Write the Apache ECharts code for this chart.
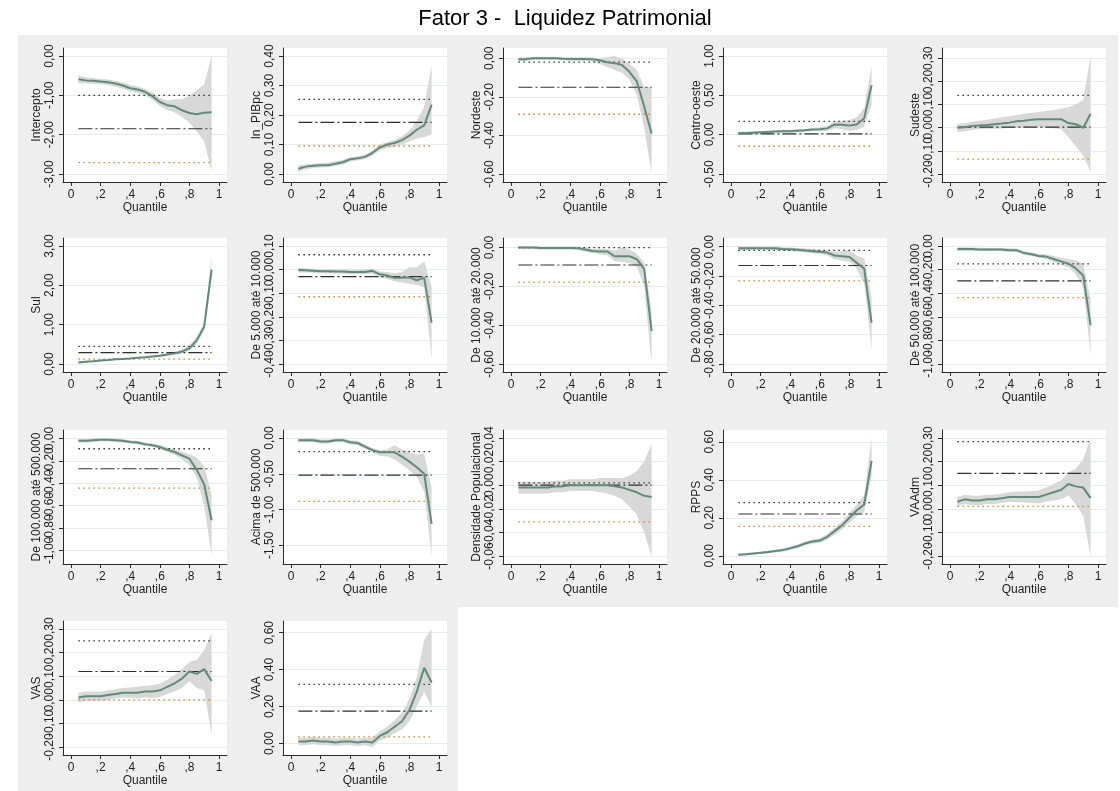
<!DOCTYPE html>
<html><head><meta charset="utf-8">
<script src="https://cdn.jsdelivr.net/npm/echarts@6/dist/echarts.min.js"></script>
<style>html,body{margin:0;padding:0;background:#fff}#c{width:1120px;height:791px}</style>
</head><body><div id="c"></div><script>
const chartTitle = 'Fator 3 -  Liquidez Patrimonial';
const quantiles = [0.05,0.10,0.15,0.20,0.25,0.30,0.35,0.40,0.45,0.50,0.55,0.60,0.65,0.70,0.75,0.80,0.85,0.90,0.95];
const xTicks = [0,0.2,0.4,0.6,0.8,1];
const panelNames = ['Intercepto','ln_PIBpc','Nordeste','Centro-oeste','Sudeste','Sul','De 5.000 até 10.000','De 10.000 até 20.000','De 20.000 até 50.000','De 50.000 até 100.000','De 100.000 até 500.000','Acima de 500.000','Densidade Populacional','RPPS','VAAdm','VAS','VAA'];
const yTicks = [[-3,-2,-1,0],[0,0.1,0.2,0.3,0.4],[-0.6,-0.4,-0.2,0],[-0.5,0,0.5,1],[-0.2,-0.1,0,0.1,0.2,0.3],[0,1,2,3],[-0.4,-0.3,-0.2,-0.1,0,0.1],[-0.6,-0.4,-0.2,0],[-0.8,-0.6,-0.4,-0.2,0],[-1,-0.8,-0.6,-0.4,-0.2,0],[-1,-0.8,-0.6,-0.4,-0.2,0],[-1.5,-1,-0.5,0],[-0.06,-0.04,-0.02,0,0.02,0.04],[0,0.2,0.4,0.6],[-0.2,-0.1,0,0.1,0.2,0.3],[-0.2,-0.1,0,0.1,0.2,0.3],[0,0.2,0.4,0.6]];
const olsCoef  = [-1.85,0.175,-0.15,0.01,0.003,0.29,-0.03,-0.09,-0.128,-0.295,-0.27,-0.52,0.0,0.22,0.15,0.12,0.175];
const olsUpper = [-1.0,0.253,-0.02,0.168,0.14,0.446,0.063,0.0,-0.025,-0.152,-0.091,-0.19,0.002,0.28,0.285,0.25,0.32];
const olsLower = [-2.71,0.095,-0.29,-0.147,-0.136,0.126,-0.115,-0.178,-0.233,-0.438,-0.444,-0.885,-0.031,0.155,0.01,0.0,0.035];

const coef01 = [-0.59,-0.62,-0.63,-0.65,-0.67,-0.70,-0.75,-0.82,-0.85,-0.91,-1.02,-1.17,-1.25,-1.28,-1.38,-1.45,-1.48,-1.44,-1.43];
const upper01 = [-0.49,-0.54,-0.56,-0.58,-0.60,-0.63,-0.67,-0.74,-0.77,-0.83,-0.93,-1.07,-1.13,-1.10,-1.10,-1.01,-0.87,-0.72,0.00];
const lower01 = [-0.70,-0.70,-0.71,-0.72,-0.74,-0.78,-0.83,-0.90,-0.94,-1.00,-1.11,-1.27,-1.37,-1.43,-1.55,-1.70,-1.92,-2.17,-2.93];

const coef02 = [0.018,0.025,0.028,0.030,0.030,0.035,0.040,0.050,0.053,0.058,0.072,0.090,0.100,0.105,0.115,0.130,0.150,0.165,0.235];
const upper02 = [0.030,0.033,0.035,0.037,0.038,0.043,0.048,0.057,0.060,0.066,0.080,0.100,0.108,0.115,0.128,0.148,0.180,0.230,0.370];
const lower02 = [0.008,0.015,0.020,0.022,0.023,0.027,0.032,0.042,0.046,0.050,0.063,0.080,0.088,0.092,0.100,0.110,0.120,0.125,0.135];

const coef03 = [-0.005,-0.005,0.0,0.0,0.0,0.0,-0.002,-0.003,-0.003,-0.003,-0.005,-0.010,-0.020,-0.025,-0.035,-0.070,-0.120,-0.250,-0.390];
const upper03 = [0.005,0.005,0.008,0.008,0.008,0.008,0.006,0.005,0.005,0.005,0.004,0.002,0.005,0.012,0.000,-0.030,-0.060,-0.150,-0.150];
const lower03 = [-0.015,-0.012,-0.008,-0.008,-0.008,-0.008,-0.010,-0.012,-0.012,-0.014,-0.018,-0.030,-0.045,-0.060,-0.075,-0.110,-0.190,-0.360,-0.600];

const coef04 = [0.020,0.020,0.025,0.030,0.035,0.040,0.045,0.045,0.050,0.055,0.065,0.070,0.080,0.130,0.125,0.115,0.130,0.210,0.630];
const upper04 = [0.040,0.038,0.042,0.047,0.052,0.057,0.062,0.063,0.068,0.073,0.085,0.092,0.110,0.170,0.175,0.185,0.220,0.340,0.880];
const lower04 = [0.000,0.003,0.008,0.013,0.018,0.023,0.028,0.028,0.032,0.037,0.045,0.048,0.050,0.080,0.070,0.050,0.060,0.100,0.380];

const coef05 = [0.000,0.002,0.008,0.010,0.012,0.015,0.018,0.022,0.028,0.030,0.035,0.037,0.037,0.037,0.037,0.020,0.015,0.000,0.060];
const upper05 = [0.015,0.020,0.025,0.030,0.035,0.040,0.045,0.050,0.055,0.060,0.065,0.068,0.072,0.077,0.082,0.088,0.100,0.120,0.310];
const lower05 = [-0.020,-0.015,-0.010,-0.007,-0.005,-0.004,-0.003,-0.001,0.000,0.002,0.003,0.004,0.002,-0.002,-0.005,-0.040,-0.080,-0.120,-0.190];

const coef06 = [0.04,0.06,0.07,0.09,0.10,0.12,0.13,0.14,0.16,0.17,0.19,0.21,0.24,0.27,0.32,0.40,0.60,0.95,2.40];
const upper06 = [0.07,0.08,0.09,0.11,0.12,0.14,0.15,0.16,0.18,0.19,0.21,0.24,0.27,0.31,0.37,0.47,0.70,1.05,2.70];
const lower06 = [0.02,0.04,0.05,0.07,0.08,0.10,0.11,0.12,0.14,0.15,0.17,0.18,0.21,0.23,0.27,0.34,0.52,0.85,2.25];

const coef07 = [-0.002,-0.003,-0.005,-0.007,-0.007,-0.008,-0.008,-0.010,-0.010,-0.010,-0.005,-0.020,-0.025,-0.035,-0.035,-0.033,-0.045,-0.035,-0.225];
const upper07 = [0.008,0.006,0.004,0.002,0.002,0.001,0.001,0.000,0.000,0.000,0.005,-0.008,-0.010,-0.015,-0.010,0.010,0.010,0.035,-0.070];
const lower07 = [-0.012,-0.012,-0.013,-0.015,-0.016,-0.017,-0.018,-0.020,-0.020,-0.020,-0.018,-0.032,-0.040,-0.050,-0.055,-0.060,-0.065,-0.075,-0.380];

const coef08 = [0.000,0.000,0.000,-0.002,-0.002,-0.002,-0.002,-0.002,-0.003,-0.010,-0.018,-0.020,-0.020,-0.045,-0.045,-0.045,-0.060,-0.110,-0.430];
const upper08 = [0.008,0.008,0.008,0.006,0.006,0.006,0.006,0.006,0.005,0.000,-0.008,-0.005,-0.008,-0.015,0.000,-0.010,-0.030,-0.080,-0.320];
const lower08 = [-0.008,-0.008,-0.008,-0.010,-0.010,-0.010,-0.010,-0.010,-0.012,-0.020,-0.028,-0.035,-0.040,-0.070,-0.075,-0.080,-0.100,-0.200,-0.600];

const coef09 = [-0.010,-0.010,-0.010,-0.010,-0.010,-0.010,-0.015,-0.017,-0.020,-0.025,-0.030,-0.035,-0.040,-0.060,-0.065,-0.070,-0.110,-0.150,-0.520];
const upper09 = [0.005,0.005,0.003,0.002,0.002,0.002,-0.003,-0.005,-0.008,-0.012,-0.016,-0.020,-0.025,-0.035,-0.030,-0.020,-0.060,-0.080,-0.350];
const lower09 = [-0.025,-0.025,-0.023,-0.022,-0.022,-0.022,-0.027,-0.030,-0.032,-0.038,-0.044,-0.050,-0.060,-0.085,-0.095,-0.100,-0.150,-0.250,-0.700];

const coef10 = [-0.025,-0.025,-0.025,-0.030,-0.030,-0.030,-0.030,-0.035,-0.035,-0.060,-0.070,-0.085,-0.090,-0.110,-0.130,-0.150,-0.190,-0.250,-0.670];
const upper10 = [-0.010,-0.010,-0.012,-0.015,-0.016,-0.016,-0.016,-0.020,-0.022,-0.045,-0.055,-0.068,-0.072,-0.085,-0.100,-0.110,-0.120,-0.150,-0.450];
const lower10 = [-0.040,-0.040,-0.040,-0.045,-0.045,-0.045,-0.045,-0.050,-0.050,-0.075,-0.085,-0.100,-0.110,-0.135,-0.160,-0.180,-0.240,-0.350,-0.920];

const coef11 = [-0.020,-0.020,-0.015,-0.010,-0.010,-0.015,-0.020,-0.030,-0.035,-0.050,-0.060,-0.075,-0.100,-0.120,-0.150,-0.180,-0.280,-0.410,-0.730];
const upper11 = [-0.005,-0.005,0.000,0.005,0.005,0.000,-0.005,-0.015,-0.020,-0.035,-0.045,-0.058,-0.080,-0.095,-0.115,-0.140,-0.170,-0.250,-0.500];
const lower11 = [-0.035,-0.035,-0.030,-0.025,-0.025,-0.030,-0.035,-0.045,-0.050,-0.065,-0.075,-0.092,-0.120,-0.145,-0.185,-0.240,-0.350,-0.600,-1.050];

const coef12 = [-0.030,-0.030,-0.030,-0.050,-0.050,-0.030,-0.030,-0.060,-0.070,-0.120,-0.170,-0.200,-0.200,-0.200,-0.260,-0.330,-0.410,-0.500,-1.200];
const upper12 = [0.000,0.000,0.000,-0.020,-0.020,-0.005,0.000,-0.030,-0.040,-0.090,-0.140,-0.170,-0.160,-0.100,-0.160,-0.200,-0.230,-0.220,-0.700];
const lower12 = [-0.060,-0.060,-0.060,-0.080,-0.080,-0.060,-0.060,-0.090,-0.100,-0.150,-0.200,-0.250,-0.260,-0.300,-0.370,-0.450,-0.550,-0.750,-1.650];

const coef13 = [-0.002,-0.002,-0.002,-0.002,-0.002,-0.001,-0.001,0.000,0.000,0.000,0.000,0.000,0.000,-0.001,-0.002,-0.004,-0.006,-0.009,-0.010];
const upper13 = [0.003,0.003,0.003,0.003,0.003,0.004,0.004,0.005,0.005,0.005,0.005,0.006,0.006,0.006,0.006,0.008,0.012,0.020,0.035];
const lower13 = [-0.007,-0.007,-0.007,-0.007,-0.007,-0.006,-0.006,-0.005,-0.005,-0.005,-0.005,-0.006,-0.007,-0.009,-0.012,-0.018,-0.025,-0.040,-0.060];

const coef14 = [0.005,0.008,0.012,0.016,0.020,0.025,0.030,0.040,0.050,0.065,0.075,0.080,0.100,0.130,0.160,0.200,0.240,0.270,0.500];
const upper14 = [0.011,0.014,0.018,0.022,0.027,0.032,0.038,0.048,0.060,0.075,0.086,0.093,0.115,0.148,0.180,0.225,0.270,0.320,0.620];
const lower14 = [-0.001,0.002,0.006,0.010,0.013,0.018,0.022,0.032,0.040,0.055,0.064,0.067,0.085,0.112,0.140,0.175,0.210,0.230,0.420];

const coef15 = [0.030,0.040,0.035,0.035,0.040,0.040,0.045,0.050,0.050,0.050,0.050,0.050,0.060,0.070,0.080,0.105,0.095,0.090,0.045];
const upper15 = [0.050,0.060,0.055,0.055,0.060,0.060,0.065,0.070,0.072,0.073,0.075,0.078,0.090,0.105,0.120,0.155,0.170,0.210,0.300];
const lower15 = [0.010,0.020,0.015,0.015,0.020,0.020,0.025,0.030,0.028,0.027,0.025,0.022,0.030,0.035,0.040,0.055,0.020,-0.030,-0.200];

const coef16 = [0.010,0.015,0.015,0.015,0.020,0.025,0.030,0.030,0.030,0.035,0.035,0.040,0.055,0.070,0.090,0.120,0.110,0.130,0.080];
const upper16 = [0.030,0.035,0.035,0.035,0.040,0.045,0.050,0.052,0.055,0.060,0.062,0.068,0.085,0.105,0.130,0.160,0.170,0.210,0.285];
const lower16 = [-0.010,-0.005,-0.005,-0.005,0.000,0.005,0.010,0.008,0.005,0.010,0.008,0.012,0.025,0.035,0.050,0.080,0.050,0.040,-0.150];

const coef17 = [0.010,0.010,0.015,0.010,0.010,0.005,0.010,0.010,0.005,0.010,0.005,0.040,0.060,0.090,0.120,0.180,0.280,0.410,0.330];
const upper17 = [0.030,0.030,0.035,0.030,0.030,0.025,0.030,0.030,0.025,0.030,0.030,0.065,0.090,0.125,0.165,0.240,0.360,0.560,0.620];
const lower17 = [-0.010,-0.010,-0.005,-0.010,-0.010,-0.015,-0.010,-0.010,-0.015,-0.010,-0.020,0.015,0.030,0.055,0.075,0.120,0.200,0.280,0.200];

const coefs  = [coef01,coef02,coef03,coef04,coef05,coef06,coef07,coef08,coef09,coef10,coef11,coef12,coef13,coef14,coef15,coef16,coef17];
const uppers = [upper01,upper02,upper03,upper04,upper05,upper06,upper07,upper08,upper09,upper10,upper11,upper12,upper13,upper14,upper15,upper16,upper17];
const lowers = [lower01,lower02,lower03,lower04,lower05,lower06,lower07,lower08,lower09,lower10,lower11,lower12,lower13,lower14,lower15,lower16,lower17];

// layout
const FONT = "'Liberation Sans', Arial, sans-serif";
const TXT = '#1e1e1e';
const colLeft = [63, 283, 503, 723, 942];
const rowTop = [48, 238, 430, 621];
const PW = 164, PH = 134, PAD = 8;

function extent(vals, pxLen) {
  const lo = Math.min(...vals), hi = Math.max(...vals);
  const pad = (hi - lo) * PAD / (pxLen - 2 * PAD);
  return [lo - pad, hi + pad];
}
const fmtY = v => { const s = (Math.abs(v) < 1e-9 ? 0 : v).toFixed(2); return s.replace('.', ','); };
const fmtX = v => { if (Math.abs(v) < 1e-9) return '0'; if (Math.abs(v - 1) < 1e-9) return '1'; return ',' + Math.round(v * 10); };

const grids = [], xAxes = [], yAxes = [], series = [];
const xr = extent(xTicks, PW);
function yAxisDef(i, ticks, withName, yr) {
  return {
    type: 'value', gridIndex: i, min: yr[0], max: yr[1], position: 'left', offset: 0,
    name: withName ? panelNames[i] : '', nameLocation: 'middle', nameGap: 19, nameRotate: 90,
    nameTextStyle: {fontFamily: FONT, fontSize: 12, color: TXT},
    axisLine: {show: withName, onZero: false, lineStyle: {color: '#2a2a2a', width: 1}},
    axisTick: {show: true, length: 4, customValues: ticks, lineStyle: {color: '#2a2a2a'}},
    axisLabel: {show: true, customValues: ticks, formatter: fmtY, rotate: 90, margin: 7, fontFamily: FONT, fontSize: 12, color: TXT, showMinLabel: true, showMaxLabel: true},
    splitLine: {show: true, lineStyle: {color: '#e4ecee', width: 1}}
  };
}
panelNames.forEach((name, i) => {
  const c = i % 5, r = Math.floor(i / 5);
  grids.push({left: colLeft[c], top: rowTop[r], width: PW, height: PH, show: true, backgroundColor: '#ffffff', borderWidth: 0});
  xAxes.push({
    type: 'value', gridIndex: i, min: xr[0], max: xr[1],
    name: 'Quantile', nameLocation: 'middle', nameGap: 14,
    nameTextStyle: {fontFamily: FONT, fontSize: 12, color: TXT},
    axisLine: {show: true, onZero: false, lineStyle: {color: '#2a2a2a', width: 1}},
    axisTick: {show: true, length: 4, customValues: xTicks, lineStyle: {color: '#2a2a2a'}},
    axisLabel: {show: true, customValues: xTicks, formatter: fmtX, margin: 7, fontFamily: FONT, fontSize: 12, color: TXT, showMinLabel: true, showMaxLabel: true},
    splitLine: {show: false}
  });
  const yr = extent(yTicks[i].concat(uppers[i], lowers[i], [olsUpper[i], olsLower[i], olsCoef[i]]), PH);
  // ticks split over two co-located axes so that every tick label is kept
  const evenTicks = yTicks[i].filter((_, k) => k % 2 === 0);
  const oddTicks = yTicks[i].filter((_, k) => k % 2 === 1);
  const yi = yAxes.length;
  yAxes.push(yAxisDef(i, evenTicks, true, yr));
  yAxes.push(yAxisDef(i, oddTicks, false, yr));
  const up = uppers[i], lo = lowers[i];
  series.push({
    type: 'custom', xAxisIndex: i, yAxisIndex: yi, silent: true, z: 1,
    data: quantiles.map((q, j) => [q, lo[j], up[j]]),
    encode: {x: 0, y: [1, 2]},
    renderItem: (params, api) => {
      if (params.dataIndex !== 0) return null;
      const pts = [];
      for (let j = 0; j < quantiles.length; j++) pts.push(api.coord([quantiles[j], up[j]]));
      for (let j = quantiles.length - 1; j >= 0; j--) pts.push(api.coord([quantiles[j], lo[j]]));
      return {type: 'polygon', shape: {points: pts}, style: {fill: '#d8d8d8'}};
    }
  });
  const q0 = quantiles[0], q1 = quantiles[quantiles.length - 1];
  series.push({type: 'line', xAxisIndex: i, yAxisIndex: yi, z: 2, symbol: 'none', silent: true,
    data: [[q0, olsLower[i]], [q1, olsLower[i]]], lineStyle: {color: '#c98432', width: 1.3, type: [1.5, 3.5]}});
  series.push({type: 'line', xAxisIndex: i, yAxisIndex: yi, z: 2, symbol: 'none', silent: true,
    data: [[q0, olsUpper[i]], [q1, olsUpper[i]]], lineStyle: {color: '#2e2e2e', width: 1.3, type: [1.5, 3.5]}});
  series.push({type: 'line', xAxisIndex: i, yAxisIndex: yi, z: 3, symbol: 'none', silent: true,
    data: [[q0, olsCoef[i]], [q1, olsCoef[i]]], lineStyle: {color: '#2e2e2e', width: 1.2, type: [14, 3, 2, 3]}});
  series.push({type: 'line', xAxisIndex: i, yAxisIndex: yi, z: 4, symbol: 'none', silent: true,
    data: quantiles.map((q, j) => [q, coefs[i][j]]), lineStyle: {color: '#628a7a', width: 2}});
});

const chart = echarts.init(document.getElementById('c'), null, {renderer: 'canvas'});
chart.setOption({
  animation: false,
  backgroundColor: '#ffffff',
  graphic: [
    {type: 'rect', z: -10, silent: true, shape: {x: 18, y: 35, width: 1100, height: 572}, style: {fill: '#eeeeee'}},
    {type: 'rect', z: -10, silent: true, shape: {x: 18, y: 607, width: 440, height: 184}, style: {fill: '#eeeeee'}},
    {type: 'text', z: 5, x: 565, y: 19, style: {text: chartTitle, fontFamily: FONT, fontSize: 22, fill: '#000', textAlign: 'center', textVerticalAlign: 'middle'}}
  ],
  grid: grids, xAxis: xAxes, yAxis: yAxes, series: series
});
</script></body></html>
